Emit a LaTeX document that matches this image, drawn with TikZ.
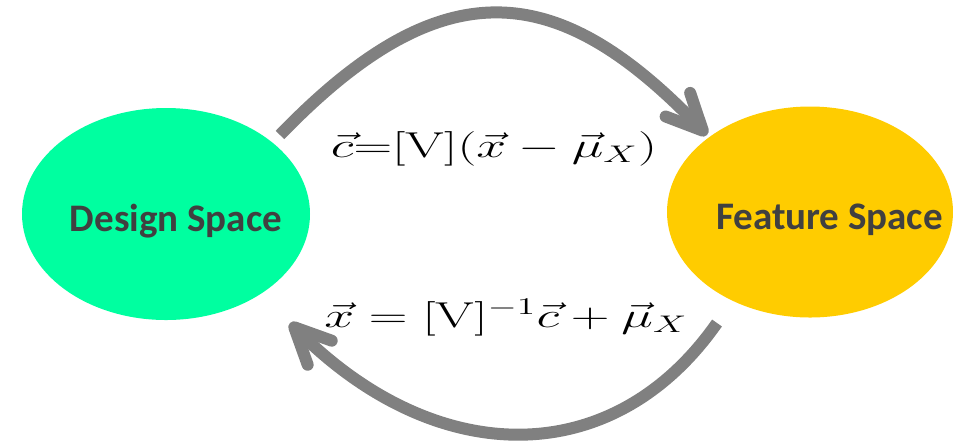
\documentclass[tikz,border=0pt]{standalone}
\usepackage{fontspec}
\usepackage{graphicx}
\usetikzlibrary{shapes.geometric,arrows.meta}
\newfontfamily\labelfont{Carlito}
\definecolor{dsgreen}{HTML}{00FFA0}
\definecolor{fsyellow}{HTML}{FFCC00}
\definecolor{arrowgray}{HTML}{808080}
\definecolor{labelgray}{HTML}{404040}
\tikzset{
  spaceblob/.style={ellipse, inner sep=0pt, draw=none},
  spacelabel/.style={anchor=base, inner sep=0pt, text=labelgray, font=\labelfont\bfseries\fontsize{19.5}{23}\selectfont},
  eqlabel/.style={anchor=base, inner sep=0pt, font=\fontsize{18}{21}\selectfont},
  bigarrow/.style={draw=arrowgray, line width=6pt, -{Straight Barb[length=18pt, width=17pt, round]}}
}
\begin{document}
\begin{tikzpicture}[x=0.5pt,y=-0.5pt]
\useasboundingbox (0,0) rectangle (953,447);
\node[spaceblob, fill=dsgreen, minimum width=144pt, minimum height=106pt] (ds) at (166,214) {};
\node[spaceblob, fill=fsyellow, minimum width=143pt, minimum height=105.5pt] (fs) at (810,212) {};
\node[spacelabel] (dstext) at (176,231) {Design Space};
\node[spacelabel] (fstext) at (829.5,229) {Feature Space};
\node[eqlabel] (eqtop) at (494,157) {\scalebox{1.55}[1]{$\vec{c}{=}[\mathrm{V}](\vec{x}-\vec{\mu}_X)$}};
\node[eqlabel] (eqbot) at (506,327) {\scalebox{1.55}[1]{$\vec{x}=[\mathrm{V}]^{-1}\vec{c}+\vec{\mu}_X$}};
\coordinate (ts) at (280,135);
\coordinate (te) at (707,135);
\coordinate (bs) at (717,323);
\coordinate (be) at (290,323);
\draw[bigarrow] (ts) .. controls (445,-36) and (560,-18) .. (te);
\draw[bigarrow] (bs) .. controls (612,473) and (435,468) .. (be);
\end{tikzpicture}
\end{document}
